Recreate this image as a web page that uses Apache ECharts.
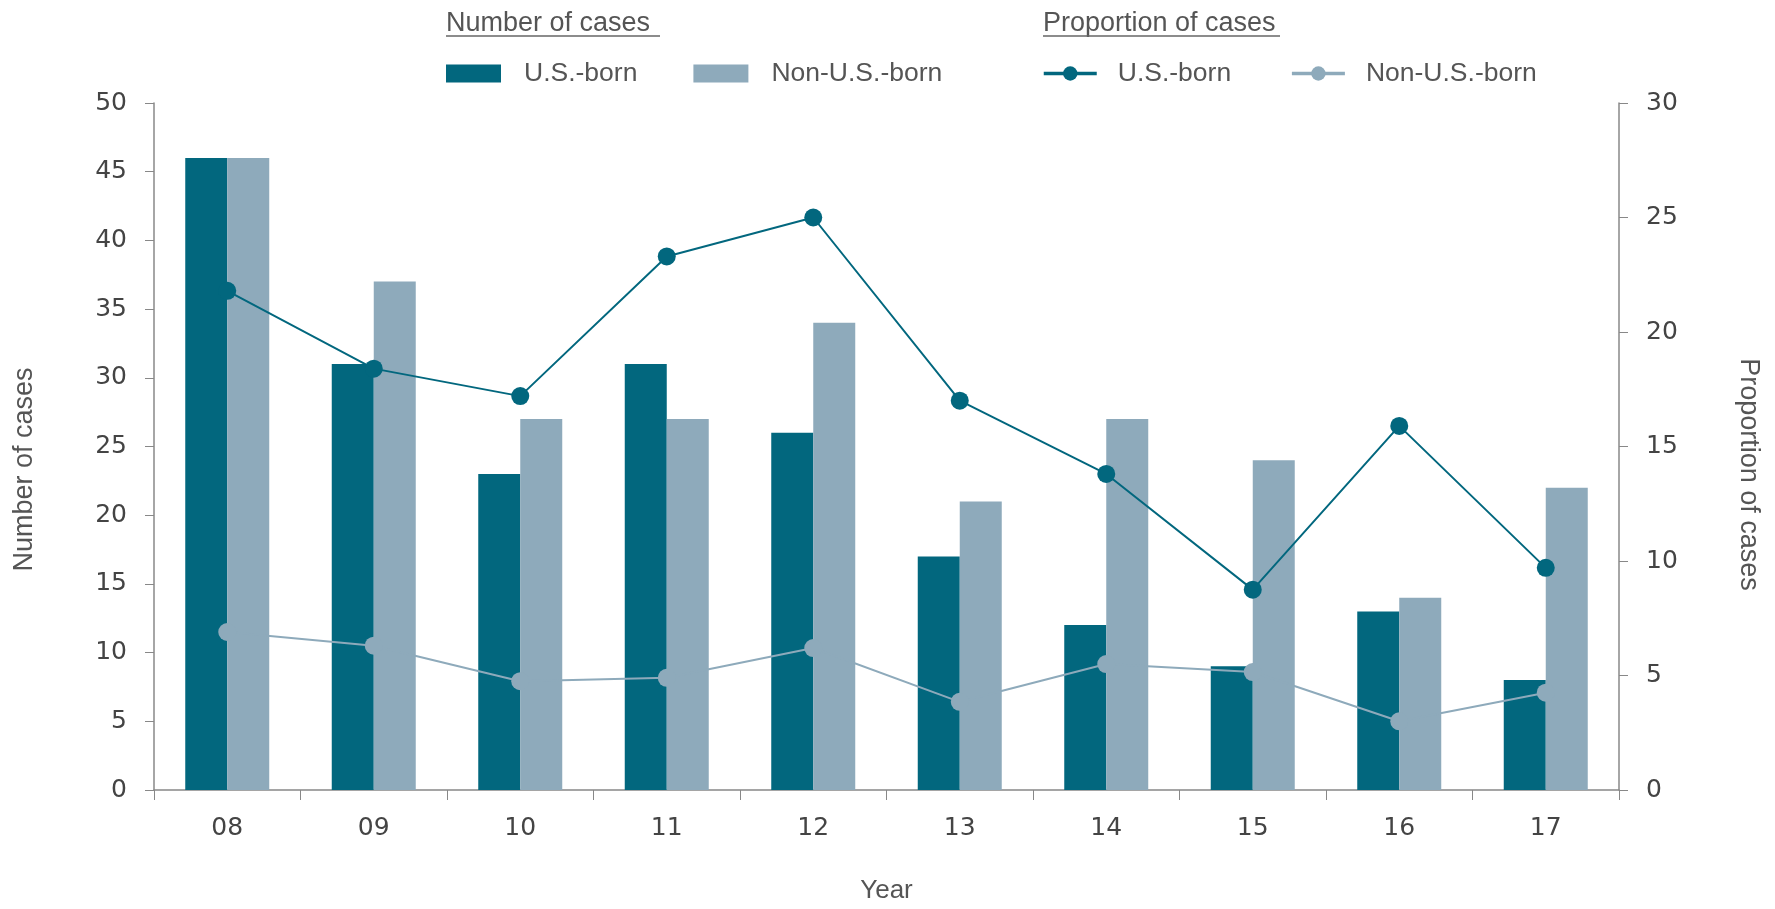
<!DOCTYPE html>
<html>
<head>
<meta charset="utf-8">
<script src="https://cdn.jsdelivr.net/npm/echarts@6/dist/echarts.min.js"></script>
<style>
    html, body { margin: 0; padding: 0; background: #fff; }
    #chart { width: 1775px; height: 909px; }
</style>
</head>
<body>
<div id="chart"></div>
<script>
    var years = ['08', '09', '10', '11', '12', '13', '14', '15', '16', '17'];
    var casesUS = [46, 31, 23, 31, 26, 17, 12, 9, 13, 8];
    var casesNonUS = [46, 37, 27, 27, 34, 21, 27, 24, 14, 22];
    var propUS = [21.8, 18.4, 17.2, 23.3, 25.0, 17.0, 13.8, 8.75, 15.9, 9.7];
    var propNonUS = [6.9, 6.3, 4.75, 4.9, 6.2, 3.85, 5.5, 5.15, 3.0, 4.25];

    var dark = '#02677e';
    var light = '#8eaabb';
    var textFont = '"Liberation Sans", Arial, sans-serif';
    var tickFont = '"DejaVu Sans", sans-serif';

    var chart = echarts.init(document.getElementById('chart'));

    chart.setOption({
        animation: false,
        grid: { left: 154, right: 156, top: 103, bottom: 119 },
        graphic: [
            { type: 'text', left: 446, top: 10, style: { text: 'Number of cases', font: '27px ' + textFont, fill: '#555' } },
            { type: 'line', shape: { x1: 446, y1: 36, x2: 660, y2: 36 }, style: { stroke: '#666', lineWidth: 1.5 } },
            { type: 'text', left: 1043, top: 10, style: { text: 'Proportion of cases', font: '27px ' + textFont, fill: '#555' } },
            { type: 'line', shape: { x1: 1043, y1: 36, x2: 1280, y2: 36 }, style: { stroke: '#666', lineWidth: 1.5 } }
        ],
        legend: [
            {
                data: ['Cases: U.S.-born', 'Cases: Non-U.S.-born'],
                left: 446, top: 60, padding: 0,
                icon: 'rect',
                itemWidth: 55, itemHeight: 18, itemGap: 56,
                formatter: function (n) { return n.split(': ')[1]; },
                textStyle: { fontFamily: textFont, fontSize: 26.5, color: '#555', padding: [0, 0, 0, 18] }
            },
            {
                data: ['Prop: U.S.-born', 'Prop: Non-U.S.-born'],
                left: 1042, top: 60, padding: 0,
                itemWidth: 53, itemHeight: 18, itemGap: 59,
                lineStyle: { width: 3.5 },
                formatter: function (n) { return n.split(': ')[1]; },
                textStyle: { fontFamily: textFont, fontSize: 26.5, color: '#555', padding: [0, 0, 0, 16] }
            }
        ],
        xAxis: {
            type: 'category',
            data: years,
            name: 'Year',
            nameLocation: 'middle',
            nameGap: 88,
            nameTextStyle: { fontFamily: textFont, fontSize: 26, color: '#555' },
            axisLine: { lineStyle: { color: '#888', width: 1.5 } },
            axisTick: { show: true, length: 10, lineStyle: { color: '#888' } },
            axisLabel: { fontFamily: tickFont, fontSize: 25, color: '#444', margin: 26 }
        },
        yAxis: [
            {
                type: 'value',
                min: 0, max: 50, interval: 5,
                name: 'Number of cases',
                nameLocation: 'middle',
                nameGap: 116,
                nameTextStyle: { fontFamily: textFont, fontSize: 27, color: '#555', padding: [0, 46, 0, 0] },
                axisLine: { show: true, lineStyle: { color: '#888', width: 1.5 } },
                axisTick: { show: true, length: 9, lineStyle: { color: '#888' } },
                axisLabel: { fontFamily: tickFont, fontSize: 25, color: '#444', margin: 27 },
                splitLine: { show: false }
            },
            {
                type: 'value',
                min: 0, max: 30, interval: 5,
                name: 'Proportion of cases',
                nameLocation: 'middle',
                nameGap: 116,
                nameRotate: -90,
                nameTextStyle: { fontFamily: textFont, fontSize: 27, color: '#555', padding: [0, 0, 0, 56] },
                axisLine: { show: true, lineStyle: { color: '#888', width: 1.5 } },
                axisTick: { show: true, length: 9, lineStyle: { color: '#888' } },
                axisLabel: { fontFamily: tickFont, fontSize: 25, color: '#444', margin: 27 },
                splitLine: { show: false }
            }
        ],
        series: [
            {
                name: 'Cases: U.S.-born',
                type: 'bar',
                data: casesUS,
                barWidth: 42,
                barGap: '0%',
                itemStyle: { color: dark }
            },
            {
                name: 'Cases: Non-U.S.-born',
                type: 'bar',
                data: casesNonUS,
                barWidth: 42,
                itemStyle: { color: light }
            },
            {
                name: 'Prop: U.S.-born',
                type: 'line',
                yAxisIndex: 1,
                data: propUS,
                symbol: 'circle',
                symbolSize: 18,
                lineStyle: { color: dark, width: 2 },
                itemStyle: { color: dark }
            },
            {
                name: 'Prop: Non-U.S.-born',
                type: 'line',
                yAxisIndex: 1,
                data: propNonUS,
                symbol: 'circle',
                symbolSize: 18,
                lineStyle: { color: light, width: 2 },
                itemStyle: { color: light }
            }
        ]
    });
</script>
</body>
</html>
